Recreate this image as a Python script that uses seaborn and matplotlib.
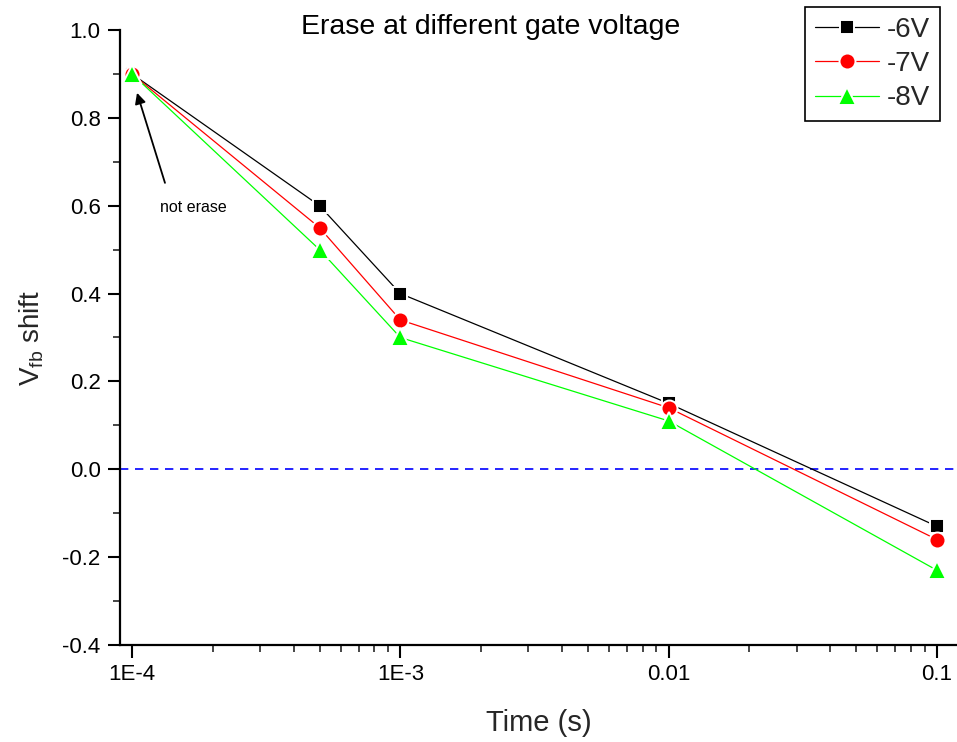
import matplotlib
matplotlib.use("Agg")
import matplotlib.pyplot as plt
import matplotlib.ticker as mticker
from matplotlib.lines import Line2D
import seaborn as sns
import pandas as pd
import numpy as np

# ---- data ----
time_s = [1e-4, 5e-4, 1e-3, 1e-2, 1e-1]
v6 = [0.90, 0.60, 0.40, 0.15, -0.13]
v7 = [0.90, 0.55, 0.34, 0.14, -0.16]
v8 = [0.90, 0.50, 0.30, 0.11, -0.23]
series_names = ["-6V", "-7V", "-8V"]
x_ticks = [1e-4, 1e-3, 1e-2, 1e-1]
x_tick_labels = ["1E-4", "1E-3", "0.01", "0.1"]
y_ticks = [-0.4, -0.2, 0.0, 0.2, 0.4, 0.6, 0.8, 1.0]
y_tick_labels = ["-0.4", "-0.2", "0.0", "0.2", "0.4", "0.6", "0.8", "1.0"]

df = pd.DataFrame({
    "Time": time_s * 3,
    "Vfb": v6 + v7 + v8,
    "Gate": sum([[n] * len(time_s) for n in series_names], []),
})

sns.set_theme(style="white")
plt.rcParams["font.family"] = ["Liberation Sans", "DejaVu Sans"]
plt.rcParams["mathtext.fontset"] = "custom"
plt.rcParams["mathtext.rm"] = "Liberation Sans"
plt.rcParams["mathtext.it"] = "Liberation Sans"

fig = plt.figure(figsize=(9.57, 7.42), dpi=100)
ax = fig.add_axes([120 / 957, (742 - 645) / 742, 1 - 120 / 957, (645 - 30) / 742])

palette = {"-6V": "#000000", "-7V": "#ff0000", "-8V": "#00ff00"}
markers = {"-6V": "s", "-7V": "o", "-8V": "^"}
msize = {"-6V": 10.5, "-7V": 11.5, "-8V": 13}
sns.lineplot(data=df, x="Time", y="Vfb", hue="Gate", style="Gate",
             palette=palette, markers=markers, dashes=False,
             markersize=10, markeredgewidth=1.4, markeredgecolor="white",
             linewidth=0.9, ax=ax, legend=False)
for ln, n in zip(ax.lines, series_names):
    ln.set_markersize(msize[n])

ax.axhline(0.0, color="#0000ff", linestyle=(0, (5, 4)), linewidth=1.2, zorder=0)

ax.set_xscale("log")
dec = (937 - 132) / 3.0
ax.set_xlim(1e-4 * 10 ** (-12 / dec), 1e-4 * 10 ** ((957 - 132) / dec))
ax.set_ylim(-0.4, 1.0)

ax.xaxis.set_major_locator(mticker.FixedLocator(x_ticks))
ax.xaxis.set_major_formatter(mticker.FixedFormatter(x_tick_labels))
ax.xaxis.set_minor_locator(mticker.LogLocator(base=10, subs=np.arange(2, 10)))
ax.xaxis.set_minor_formatter(mticker.NullFormatter())
ax.yaxis.set_major_locator(mticker.FixedLocator(y_ticks))
ax.yaxis.set_major_formatter(mticker.FixedFormatter(y_tick_labels))
ax.yaxis.set_minor_locator(mticker.MultipleLocator(0.1))

for s in ["top", "right"]:
    ax.spines[s].set_visible(False)
for s in ["left", "bottom"]:
    ax.spines[s].set_linewidth(1.6)
    ax.spines[s].set_color("black")

ax.tick_params(axis="both", which="major", direction="out", length=9, width=1.5,
               labelsize=16, colors="black", bottom=True, left=True, pad=5)
ax.tick_params(axis="both", which="minor", direction="out", length=5, width=1.2,
               bottom=True, left=True)

ax.set_xlabel("Time (s)", fontsize=21, labelpad=17)
ax.set_ylabel(r"V$_{\mathrm{fb}}$ shift", fontsize=20, labelpad=12)

fig.text(491 / 957, 1 - 14 / 742, "Erase at different gate voltage",
         ha="center", va="top", fontsize=20.5, color="black")

ax.annotate("", xy=(1.044e-4, 0.857), xytext=(1.327e-4, 0.652),
            arrowprops=dict(arrowstyle="-|>", color="black", lw=1.3,
                            shrinkA=0, shrinkB=0, mutation_scale=16))
ax.text(1.688e-4, 0.595, "not erase", fontsize=11.5, ha="center", va="center",
        color="black")

handles = [Line2D([], [], color=palette[n], marker=markers[n],
                  markersize=msize[n], markeredgewidth=1.4,
                  markeredgecolor="white", linewidth=0.9) for n in series_names]
leg = fig.legend(handles, series_names, loc="upper right",
                 bbox_to_anchor=(940 / 957, 1 - 7 / 742),
                 bbox_transform=fig.transFigure,
                 fontsize=20, frameon=True, fancybox=False, framealpha=1,
                 edgecolor="black", handlelength=2.3, handletextpad=0.3,
                 borderpad=0.35, labelspacing=0.3, borderaxespad=0)
leg.get_frame().set_linewidth(1.2)

fig.savefig("out.png", dpi=100)
